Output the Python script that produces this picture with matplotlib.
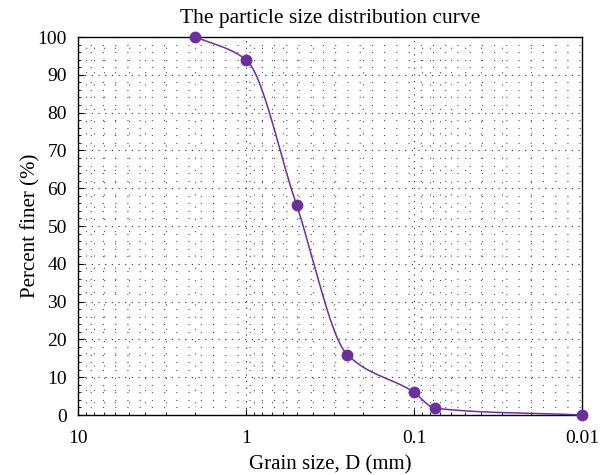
import numpy as np
import matplotlib.pyplot as plt
from matplotlib.ticker import LogLocator, MultipleLocator, FixedLocator, NullFormatter

plt.rcParams["font.family"] = ["Liberation Serif", "DejaVu Serif"]
plt.rcParams["font.size"] = 14

# sieve results
grain_size = [2.0, 1.0, 0.5, 0.25, 0.1, 0.075, 0.01]
percent_finer = [100, 94, 55.5, 16, 6, 1.8, 0]

x_ticks = [10, 1, 0.1, 0.01]
x_ticklabels = ["10", "1", "0.1", "0.01"]

PURPLE = "#6c2f9b"


def pchip(x, y, xs):
    # monotone cubic (Fritsch-Carlson) through the measured points
    x = np.asarray(x, float)
    y = np.asarray(y, float)
    h = np.diff(x)
    d = np.diff(y) / h
    m = np.zeros_like(y)
    for k in range(1, len(x) - 1):
        if d[k - 1] * d[k] > 0:
            w1 = 2 * h[k] + h[k - 1]
            w2 = h[k] + 2 * h[k - 1]
            m[k] = (w1 + w2) / (w1 / d[k - 1] + w2 / d[k])
    m[0] = d[0]
    m[-1] = d[-1]
    out = np.empty_like(xs)
    for i, xv in enumerate(xs):
        k = np.clip(np.searchsorted(x, xv) - 1, 0, len(h) - 1)
        t = (xv - x[k]) / h[k]
        h00 = 2 * t**3 - 3 * t**2 + 1
        h10 = t**3 - 2 * t**2 + t
        h01 = -2 * t**3 + 3 * t**2
        h11 = t**3 - t**2
        out[i] = h00 * y[k] + h10 * h[k] * m[k] + h01 * y[k + 1] + h11 * h[k] * m[k + 1]
    return out


fig = plt.figure(figsize=(6.06, 4.75), dpi=100)
ax = fig.add_axes([78 / 606, 1 - 415 / 475, 504 / 606, 378 / 475])

lx = np.log10(grain_size)[::-1]
ly = np.array(percent_finer)[::-1]
xs = np.linspace(lx[0], lx[-1], 400)
ax.plot(10 ** xs, pchip(lx, ly, xs), color=PURPLE, lw=1.1, clip_on=False, zorder=3)
ax.plot(grain_size, percent_finer, "o", color=PURPLE, ms=7.5, clip_on=False, zorder=4)

ax.set_xscale("log")
ax.set_xlim(10, 0.01)
ax.set_ylim(0, 100)

ax.xaxis.set_major_locator(FixedLocator(x_ticks))
ax.set_xticklabels(x_ticklabels)
ax.xaxis.set_minor_locator(LogLocator(base=10, subs=np.arange(2, 10), numticks=20))
ax.xaxis.set_minor_formatter(NullFormatter())
ax.yaxis.set_major_locator(MultipleLocator(10))
ax.yaxis.set_minor_locator(MultipleLocator(2))

ax.tick_params(which="major", direction="in", length=4, width=0.8)
ax.tick_params(which="minor", direction="in", length=2, width=0.6)
ax.tick_params(axis="x", pad=11)
ax.tick_params(axis="y", pad=8)

ax.grid(which="major", color="0.15", lw=0.8, ls=(0, (1, 5)))
ax.grid(which="minor", color="0.3", lw=0.8, ls=(0, (1, 10)))
ax.set_axisbelow(True)

for s in ax.spines.values():
    s.set_linewidth(1.0)

ax.set_title("The particle size distribution curve", fontsize=15.5, pad=10)
ax.set_xlabel("Grain size, D (mm)", fontsize=15, labelpad=6)
ax.set_ylabel("Percent finer (%)", fontsize=15, labelpad=-2)

fig.savefig("out.png", dpi=100)
